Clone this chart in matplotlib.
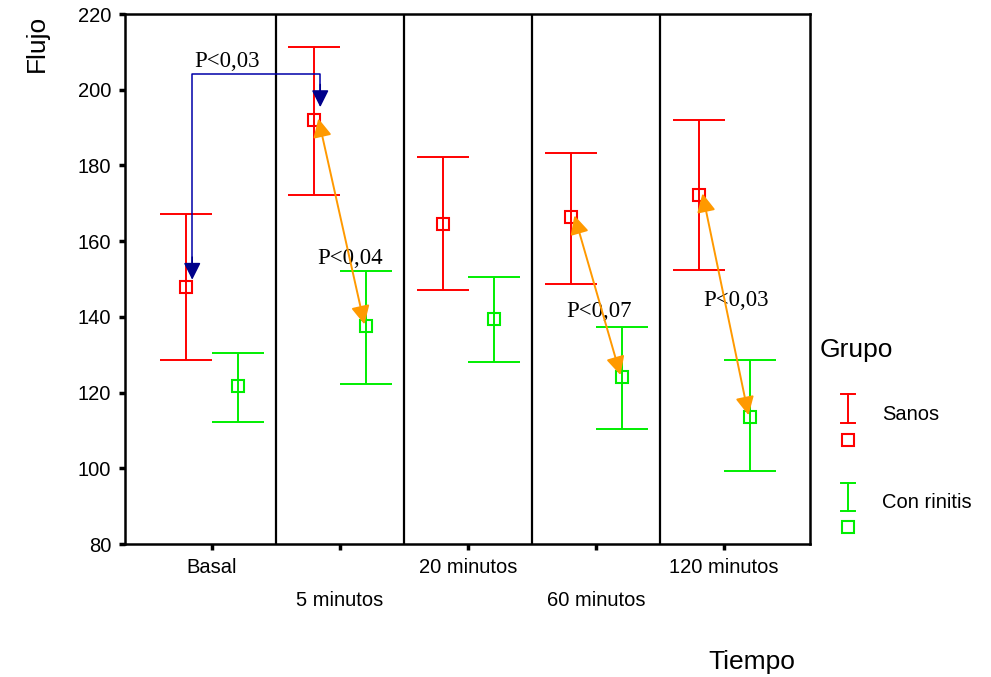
import matplotlib
matplotlib.use("Agg")
import matplotlib.pyplot as plt
from matplotlib.lines import Line2D

categories = ["Basal", "5 minutos", "20 minutos", "60 minutos", "120 minutos"]
sanos_mean = [147.8, 192.1, 164.4, 166.5, 172.3]
sanos_upper = [167.3, 211.3, 182.1, 183.4, 192.1]
sanos_lower = [128.6, 172.3, 147.0, 148.6, 152.5]
rin_mean = [121.7, 137.5, 139.4, 124.1, 113.5]
rin_upper = [130.4, 152.0, 150.4, 137.3, 128.6]
rin_lower = [112.2, 122.2, 128.0, 110.4, 99.3]
yticks = [80, 100, 120, 140, 160, 180, 200, 220]

RED = "#ff0000"
GREEN = "#00ee00"
BLUE = "#0000a8"
NAVY = "#00008b"
ORANGE = "#ff9900"

plt.rcParams['font.family'] = ['Liberation Sans', 'DejaVu Sans']
SERIF = ['Liberation Serif', 'DejaVu Serif']

fig = plt.figure(figsize=(9.91, 6.77), dpi=100)
W, H = 991, 677
ax = fig.add_axes([125 / W, 1 - 544 / H, (810 - 125) / W, (544 - 14) / H])

off = 0.2
xs = list(range(len(categories)))
xr = [x - off for x in xs]
xg = [x + off for x in xs]

def draw(xp, m, lo, up, col):
    yerr = [[mm - l for mm, l in zip(m, lo)], [u - mm for mm, u in zip(m, up)]]
    ax.errorbar(xp, m, yerr=yerr, fmt='none', ecolor=col, elinewidth=1.4,
                capsize=18.5, capthick=1.4, zorder=3)
    ax.plot(xp, m, linestyle='none', marker='s', markersize=8.5,
            markerfacecolor='none', markeredgecolor=col, markeredgewidth=1.5, zorder=4)

draw(xr, sanos_mean, sanos_lower, sanos_upper, RED)
draw(xg, rin_mean, rin_lower, rin_upper, GREEN)

ax.set_xlim(-0.68, 4.67)
ax.set_ylim(80, 220)
for d in [0.5, 1.5, 2.5, 3.5]:
    ax.axvline(d, color='black', lw=1.6, zorder=1)
for s in ax.spines.values():
    s.set_linewidth(1.8)

ax.set_yticks(yticks)
ax.set_yticklabels([str(v) for v in yticks], fontsize=14.5)
ax.set_xticks(xs)
ax.set_xticklabels([c if i % 2 == 0 else "\n" + c for i, c in enumerate(categories)],
                   fontsize=14.5, linespacing=1.95)
ax.tick_params(axis='both', direction='out', length=4, width=2.5)
ax.tick_params(axis='x', pad=6)
ax.tick_params(axis='y', pad=6)

# Blue bracket (Basal vs 5 minutos, Sanos)
bx0 = xr[0] + 0.045
bx1 = xr[1] + 0.045
ytop = 204.2
ax.plot([bx0, bx0, bx1, bx1], [151, ytop, ytop, 197], color=BLUE, lw=1.1, zorder=5)
for bx, tip in [(bx0, sanos_mean[0] + 2.0), (bx1, sanos_mean[1] + 3.3)]:
    ax.annotate("", xy=(bx, tip), xytext=(bx, tip + 6),
                arrowprops=dict(arrowstyle='-|>', color=NAVY, lw=1.1,
                                mutation_scale=26, shrinkA=0, shrinkB=0), zorder=6)
ax.text(bx0 + 0.02, ytop + 0.5, "P<0,03", family=SERIF,
        fontsize=16.5, ha='left', va='bottom', color='black')

# Orange double arrows
pairs = [(1, "P<0,04", 0.82, 155.5), (3, "P<0,07", 2.77, 141.3), (4, "P<0,03", 3.84, 144.2)]
for i, lab, tx, ty in pairs:
    ax.annotate("", xy=(xg[i] - 0.01, rin_mean[i] + 0.5), xytext=(xr[i] + 0.03, sanos_mean[i] + 0.3),
                arrowprops=dict(arrowstyle='<|-|>', color=ORANGE, lw=1.4,
                                mutation_scale=28, shrinkA=0, shrinkB=0), zorder=6)
    ax.text(tx, ty, lab, family=SERIF,
            fontsize=16.5, ha='left', va='center', color='black')

# Axis titles
fig.text(37 / W, 1 - 43 / H, "Flujo", rotation=90, fontsize=19, ha='center', va='center')
fig.text(752 / W, 1 - 662 / H, "Tiempo", fontsize=19, ha='center', va='center')

# Legend
fig.text(820 / W, 1 - 350 / H, "Grupo", fontsize=19, ha='left', va='center')
for yt_px, yb_px, ysq, ytxt, col, lab in [(394, 423, 440, 414, RED, "Sanos"),
                                          (483, 511, 527, 502, GREEN, "Con rinitis")]:
    x0 = 848 / W
    yt = 1 - yt_px / H
    yb = 1 - yb_px / H
    fig.add_artist(Line2D([x0, x0], [yb, yt], color=col, lw=1.4))
    fig.add_artist(Line2D([x0 - 7 / W, x0 + 7 / W], [yt, yt], color=col, lw=1.4))
    fig.add_artist(Line2D([x0 - 7 / W, x0 + 7 / W], [yb, yb], color=col, lw=1.4))
    fig.add_artist(Line2D([x0], [1 - ysq / H], linestyle='none', marker='s', markersize=8.5,
                          markerfacecolor='none', markeredgecolor=col, markeredgewidth=1.5))
    fig.text(882 / W, 1 - ytxt / H, lab, fontsize=14.5, ha='left', va='center')

fig.savefig("out.png", dpi=100)
